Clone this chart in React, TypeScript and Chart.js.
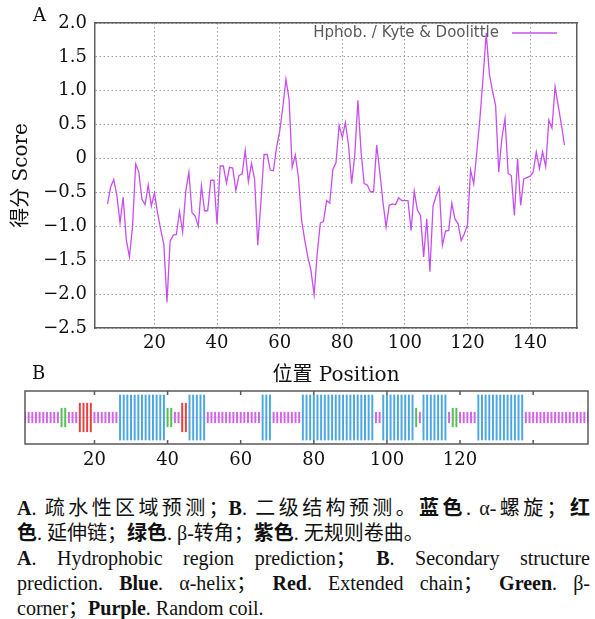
import React, { useEffect, useRef } from 'react';
import { Chart, registerables } from 'chart.js';

Chart.register(...registerables);

const hydroStartPosition = 5;
const hydroScores = [
  -0.67, -0.42, -0.31, -0.55, -0.95, -0.57, -1.20, -1.45, -1.00, -0.08,
  -0.20, -0.60, -0.68, -0.39, -0.70, -0.51, -0.80, -1.05, -1.27, -2.12,
  -1.22, -1.13, -1.12, -0.78, -1.08, -0.48, -0.20, -0.80, -0.85, -1.00,
  -0.40, -0.77, -0.77, -0.32, -0.32, -0.97, -0.11, -0.11, -0.36, -0.13,
  -0.14, -0.47, -0.25, -0.23, 0.12, -0.34, -0.07, -0.31, -1.28, -0.65,
  0.06, 0.06, -0.17, -0.18, 0.16, 0.40, 0.75, 1.17, 0.88, -0.13,
  0.05, -0.28, -0.90, -1.20, -1.45, -1.65, -2.01, -1.40, -0.95, -0.93,
  -0.62, -0.66, -0.16, -0.06, 0.49, 0.31, 0.53, 0.20, -0.37, 0.05,
  0.86, 0.10, -0.37, -0.39, -0.49, -0.49, 0.20, -0.20, -0.64, -1.01,
  -0.69, -0.67, -0.68, -0.58, -0.62, -0.62, -0.62, -1.06, -0.48, -0.76,
  -0.84, -1.45, -0.89, -1.67, -0.70, -0.55, -0.43, -1.28, -1.07, -1.06,
  -0.66, -0.89, -0.96, -1.21, -1.11, -0.98, -0.17, -0.37, 0.10, 0.60,
  1.20, 1.85, 1.25, 1.00, 0.78, -0.20, 0.30, 0.59, -0.22, -0.25,
  -0.84, 0.00, -0.69, -0.30, -0.28, -0.26, -0.20, 0.10, -0.15, 0.10,
  -0.12, 0.57, 0.45, 1.06, 0.78, 0.50, 0.20,
];
const xRangeA = [1, 155];
const xTickValuesA = [20, 40, 60, 80, 100, 120, 140];
const xTickLabelsA = ['20', '40', '60', '80', '100', '120', '140'];
const yTickValuesA = [-2.5, -2.0, -1.5, -1.0, -0.5, 0, 0.5, 1.0, 1.5, 2.0];
const yTickLabelsA = ['\u22122.5', '\u22122.0', '\u22121.5', '\u22121.0', '\u22120.5', '0', '0.5', '1.0', '1.5', '2.0'];
const legendLabelA = 'Hphob. / Kyte & Doolittle';
const xTitleA = '位置 Position';
const yTitleA = '得分 Score';

const secondaryStructure = [
  'cccccccccc', 'ttccceeeec', 'cccccchhhh', 'hhhhhhhhht', 'tcceehhhhh',
  'cccccccccc', 'ccccchhhcc', 'cccccchhhh', 'hhhhhhhhhh', 'hhhhhhcchh',
  'hhhhhhhtch', 'hhhhhhcttc', 'cccchhhhhh', 'hhhhhhhccc', 'cccccccccc',
  'ccccc',
].join('');
const structureHalfHeight: Record<string, number> = { h: 0.85, e: 0.54, t: 0.35, c: 0.2 };
const structureColor: Record<string, string> = { h: '#4ba7e2', e: '#e4413d', t: '#4dc24d', c: '#d066e6' };
const xRangeB = [1, 155];
const xTickValuesB = [20, 40, 60, 80, 100, 120, 140];
const xTickLabelsB = ['20', '40', '60', '80', '100', '120', ''];

const lineColor = '#c74ff0';
const chartSerif = "'DejaVu Serif', 'Noto Sans CJK SC', serif";
const captionSerif = "'Liberation Serif', 'Noto Sans CJK SC', serif";

const legendA = {
  id: 'legendA',
  afterDraw(chart: any) {
    const ctx = chart.ctx as CanvasRenderingContext2D;
    const { right, top } = chart.chartArea;
    ctx.save();
    ctx.font = "15px 'DejaVu Sans', sans-serif";
    ctx.fillStyle = '#5a5a5a';
    ctx.textAlign = 'right';
    ctx.textBaseline = 'middle';
    ctx.fillText(legendLabelA, right - 78, top + 10);
    ctx.strokeStyle = lineColor;
    ctx.lineWidth = 1.3;
    ctx.beginPath();
    ctx.moveTo(right - 65, top + 10);
    ctx.lineTo(right - 20, top + 10);
    ctx.stroke();
    ctx.restore();
  },
};

const frameB = {
  id: 'frameB',
  afterDraw(chart: any) {
    const ctx = chart.ctx as CanvasRenderingContext2D;
    const { left, right, top, bottom } = chart.chartArea;
    const xs = chart.scales.x;
    ctx.save();
    ctx.strokeStyle = '#5a5a5a';
    ctx.lineWidth = 1.5;
    ctx.strokeRect(left, top, right - left, bottom - top);
    ctx.beginPath();
    xTickValuesB.forEach((v) => {
      const px = xs.getPixelForValue(v);
      ctx.moveTo(px, bottom); ctx.lineTo(px, bottom - 4);
      ctx.moveTo(px, top); ctx.lineTo(px, top + 4);
    });
    ctx.stroke();
    ctx.restore();
  },
};

const gridA = {
  color: '#9c9c9c',
  lineWidth: 1,
  drawTicks: false,
  tickLength: 0,
};
const borderA = { display: true, color: '#5e5e5e', width: 1.5, dash: [1.5, 2.5] };

export default function App() {
  const refA = useRef<HTMLCanvasElement>(null);
  const refB = useRef<HTMLCanvasElement>(null);

  useEffect(() => {
    const hydroPoints = hydroScores.map((v, i) => ({ x: hydroStartPosition + i, y: v }));
    const setX = (s: any) => { s.ticks = xTickValuesA.map((v) => ({ value: v })); };
    const setY = (s: any) => { s.ticks = yTickValuesA.map((v) => ({ value: v })); };
    const chartA = new Chart(refA.current as HTMLCanvasElement, {
      type: 'line',
      data: {
        datasets: [
          {
            label: legendLabelA,
            data: hydroPoints,
            borderColor: lineColor,
            borderWidth: 1.3,
            pointRadius: 0,
            tension: 0,
            fill: false,
          },
        ],
      },
      options: {
        responsive: false,
        animation: false,
        layout: { padding: { left: 0, right: 18, top: 23, bottom: 0 } },
        plugins: { legend: { display: false }, tooltip: { enabled: false } },
        scales: {
          x: {
            type: 'linear',
            min: xRangeA[0],
            max: xRangeA[1],
            afterBuildTicks: setX,
            afterFit: (s: any) => { s.height = 62; },
            grid: gridA,
            border: borderA,
            ticks: {
              autoSkip: false,
              maxRotation: 0,
              padding: 5,
              color: '#111',
              font: { family: chartSerif, size: 18 },
              callback: (_v: any, i: number) => xTickLabelsA[i],
            },
            title: {
              display: true,
              text: xTitleA,
              color: '#111',
              font: { family: chartSerif, size: 20 },
              padding: { top: 0, bottom: 2 },
            },
          },
          x2: {
            type: 'linear',
            position: 'top',
            min: xRangeA[0],
            max: xRangeA[1],
            afterBuildTicks: setX,
            afterFit: (s: any) => { s.height = 0; },
            grid: { display: false, drawTicks: false },
            border: { display: true, color: '#5e5e5e', width: 1.5 },
            ticks: { display: false },
          },
          y: {
            min: yTickValuesA[0],
            max: yTickValuesA[yTickValuesA.length - 1],
            afterBuildTicks: setY,
            afterFit: (s: any) => { s.width = 95; },
            grid: gridA,
            border: borderA,
            ticks: {
              padding: 8,
              color: '#111',
              font: { family: chartSerif, size: 18 },
              callback: (_v: any, i: number) => yTickLabelsA[i],
            },
            title: {
              display: true,
              text: yTitleA,
              color: '#111',
              font: { family: chartSerif, size: 20 },
              padding: { top: 10, bottom: 0 },
            },
          },
          y2: {
            position: 'right',
            min: yTickValuesA[0],
            max: yTickValuesA[yTickValuesA.length - 1],
            afterBuildTicks: setY,
            afterFit: (s: any) => { s.width = 0; },
            grid: { display: false, drawTicks: false },
            border: { display: true, color: '#5e5e5e', width: 1.5 },
            ticks: { display: false },
          },
        },
      },
      plugins: [legendA],
    } as any);

    const ssData = secondaryStructure.split('').map((s, i) => ({
      x: i + 1,
      y: [-structureHalfHeight[s], structureHalfHeight[s]],
    }));
    const ssColors = secondaryStructure.split('').map((s) => structureColor[s]);

    const chartB = new Chart(refB.current as HTMLCanvasElement, {
      type: 'bar',
      data: {
        datasets: [
          {
            type: 'line',
            data: [{ x: xRangeB[0], y: 0 }, { x: xRangeB[1], y: 0 }],
            borderColor: 'rgba(214,120,232,0.35)',
            borderWidth: 1,
            pointRadius: 0,
            order: 2,
          },
          {
            type: 'bar',
            data: ssData,
            backgroundColor: ssColors,
            borderWidth: 0,
            barThickness: 1.3,
            order: 1,
          },
        ],
      },
      options: {
        responsive: false,
        animation: false,
        layout: { padding: { left: 25, right: 7, top: 6, bottom: 0 } },
        plugins: { legend: { display: false }, tooltip: { enabled: false } },
        scales: {
          x: {
            type: 'linear',
            min: xRangeB[0],
            max: xRangeB[1],
            offset: false,
            afterBuildTicks: (s: any) => { s.ticks = xTickValuesB.map((v) => ({ value: v })); },
            afterFit: (s: any) => { s.height = 36; },
            grid: { display: false, drawTicks: false },
            border: { display: false },
            ticks: {
              autoSkip: false,
              maxRotation: 0,
              padding: 6,
              color: '#111',
              font: { family: chartSerif, size: 18 },
              callback: (_v: any, i: number) => xTickLabelsB[i],
            },
          },
          y: { display: false, min: -1, max: 1 },
        },
      },
      plugins: [frameB],
    } as any);

    return () => {
      chartA.destroy();
      chartB.destroy();
    };
  }, []);

  const bold = { fontWeight: 700 } as const;
  const justifyLine = { textAlign: 'justify', textAlignLast: 'justify', whiteSpace: 'nowrap' } as any;
  const leftLine = { textAlign: 'left', whiteSpace: 'nowrap' } as any;

  return (
    <div style={{ position: 'absolute', left: 0, top: 0, width: 595, height: 619, overflow: 'hidden', background: '#fff' }}>
      <canvas ref={refA} width={595} height={390} style={{ position: 'absolute', left: 0, top: 0 }} />
      <canvas ref={refB} width={595} height={95} style={{ position: 'absolute', left: 0, top: 385 }} />
      <div style={{ position: 'absolute', left: 33, top: 6, fontFamily: chartSerif, fontSize: 18, lineHeight: 1, color: '#111' }}>A</div>
      <div style={{ position: 'absolute', left: 32, top: 364, fontFamily: chartSerif, fontSize: 18, lineHeight: 1, color: '#111' }}>B</div>
      <div style={{ position: 'absolute', left: 17, top: 496, width: 573, fontFamily: captionSerif, fontSize: 20, lineHeight: '25px', color: '#111' }}>
        <div style={justifyLine}>
          <span style={bold}>A</span>. 疏水性区域预测；<span style={bold}>B</span>. 二级结构预测。<span style={bold}>蓝色</span>. α-螺旋；<span style={bold}>红</span>
        </div>
        <div style={leftLine}>
          <span style={bold}>色</span>. 延伸链；<span style={bold}>绿色</span>. β-转角；<span style={bold}>紫色</span>. 无规则卷曲。
        </div>
        <div style={justifyLine}>
          <span style={bold}>A</span>. Hydrophobic region prediction； <span style={bold}>B</span>. Secondary structure
        </div>
        <div style={justifyLine}>
          prediction. <span style={bold}>Blue</span>. α-helix； <span style={bold}>Red</span>. Extended chain； <span style={bold}>Green</span>. β-
        </div>
        <div style={leftLine}>
          corner；<span style={bold}>Purple</span>. Random coil.
        </div>
      </div>
    </div>
  );
}
